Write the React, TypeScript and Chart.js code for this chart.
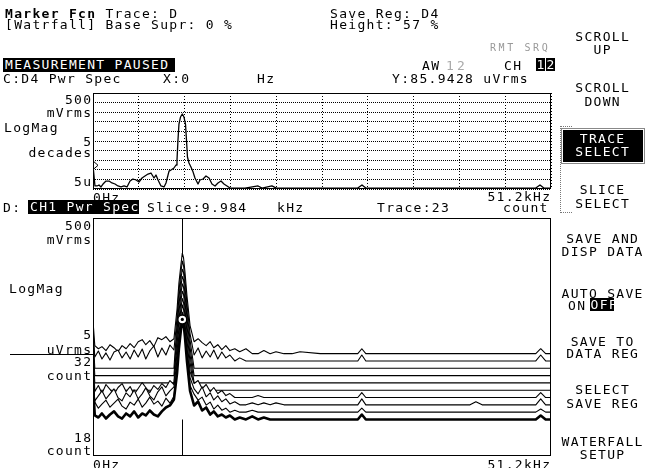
import React, { useEffect, useRef } from "react";
import { Chart, registerables } from "chart.js";

Chart.register(...registerables);

// ---------- axis constants ----------
const SPAN_KHZ = 51.2;
const SLICE_KHZ = 9.984;
const UPPER_MIN_UV = 5;
const UPPER_MAX_UV = 500000;
const UPPER_MARKER_KHZ = 0;
const UPPER_MARKER_UV = 85.9428;

// ---------- trace C: D4 Pwr Spec (uVrms) ----------
const UPPER_KHZ = [0, 0.22, 0.45, 0.67, 0.89, 1.12, 1.45, 1.79, 2.12, 2.46, 2.79, 3.13, 3.47, 3.8, 4.14, 4.47, 4.81, 5.14, 5.48, 5.81, 6.15, 6.48, 6.82, 7.04, 7.27, 7.6, 7.94, 8.16, 8.5, 8.72, 9.05, 9.28, 9.39, 9.5, 9.61, 9.78, 9.984, 10.17, 10.34, 10.45, 10.56, 10.73, 10.95, 11.18, 11.4, 11.74, 11.96, 12.3, 12.63, 12.97, 13.3, 13.64, 13.97, 14.31, 14.64, 14.98, 15.32, 17.0, 18.45, 18.9, 20.0, 20.5, 29.6, 30.07, 30.5, 49.5, 49.97, 50.4, 51.2];
const UPPER_UV = [85.94, 7.2, 7.2, 8.1, 6.4, 9.1, 13, 13, 10.3, 9.1, 7.2, 6.4, 7.2, 6.4, 13, 16.6, 14.7, 11.6, 18.7, 23.8, 30, 34, 18.7, 26.8, 14.7, 7.2, 6.4, 10.3, 43, 49, 62, 89, 161, 1790, 12100, 28000, 40300, 28000, 12100, 1790, 232, 113, 70, 39, 18.7, 9.1, 14.7, 16.6, 23.8, 18.7, 9.1, 7.2, 10.3, 13, 9.1, 7.2, 5.6, 5.6, 7.2, 5.6, 7.2, 5.6, 5.6, 8.1, 5.6, 5.6, 8.1, 5.6, 5.6];

// ---------- waterfall D: CH1 Pwr Spec (uVrms) ----------
const WF_KHZ = [0, 0.2, 0.6, 1.0, 1.45, 1.9, 2.35, 2.8, 3.25, 3.7, 4.15, 4.6, 5.05, 5.5, 5.9, 6.35, 6.8, 7.25, 7.7, 8.15, 8.6, 9.05, 9.4, 9.6, 9.84, 9.984, 10.12, 10.28, 10.5, 10.85, 11.3, 11.75, 12.2, 12.65, 13.1, 13.5, 13.95, 14.4, 14.85, 15.3, 15.85, 16.4, 17.1, 17.8, 18.45, 19.1, 19.8, 20.45, 21.35, 22.25, 23.15, 25.4, 29.6, 30.05, 30.5, 42.15, 42.8, 43.5, 49.5, 50.05, 50.6, 51.2];
const PEAK_KHZ = [0, 0.2, 9.05, 9.4, 9.6, 9.84, 9.984, 10.12, 10.28, 10.5, 10.85, 11.3, 51.2];

const TRACE_23 = [97, 7.0, 5.9, 8.3, 5.4, 7.6, 9.9, 6.5, 5.4, 8.3, 6.5, 9.9, 5.9, 8.3, 7.0, 10.7, 7.6, 6.5, 9.9, 13.8, 16.4, 27.3, 260, 2000, 10800, 24300, 17500, 5500, 720, 56, 16.4, 23, 10.7, 13.8, 7.6, 9.9, 6.5, 7.6, 5.9, 7.0, 5, 5.9, 5, 6.5, 5, 5.9, 5, 5, 5, 5, 5, 5, 5, 7.6, 5, 5, 5, 5, 5, 7.0, 5, 5];
const TRACE_24 = [75.5, 11.7, 7.0, 9.9, 13.8, 7.6, 10.7, 15.1, 8.3, 6.5, 11.7, 9.1, 15.1, 7.6, 10.7, 17.8, 9.9, 12.7, 8.3, 16.4, 10.7, 19.4, 235, 1900, 10350, 24300, 17200, 5250, 690, 48, 23, 13.8, 17.8, 9.1, 11.7, 6.5, 9.1, 5.9, 7.0, 5, 5.9, 5, 5, 5.9, 5, 5, 5, 5, 5, 5, 5, 5, 5, 7.0, 5, 5, 5, 5, 5, 6.5, 5, 5];
const TRACE_25 = [64, 7.0, 10.7, 16.4, 8.3, 12.7, 19.4, 9.1, 7.0, 13.8, 9.9, 17.8, 8.3, 12.7, 21.1, 10.7, 7.6, 15.1, 23, 10.7, 16.4, 23, 240, 1950, 10500, 24300, 17200, 5400, 700, 50, 19.4, 12.7, 23, 9.9, 13.8, 7.6, 10.7, 6.5, 8.3, 5.4, 6.5, 5, 5, 5.9, 5, 5.9, 5, 5.9, 5, 5, 5, 5, 5, 8.3, 5, 5, 6.5, 5, 5, 8.3, 5, 5];
const TRACE_26 = [64, 8.3, 13.8, 7.0, 15.1, 9.9, 6.5, 11.7, 16.4, 8.3, 12.7, 6.5, 10.7, 17.8, 11.7, 7.6, 13.8, 9.9, 16.4, 11.7, 21.1, 15.1, 227, 1900, 10350, 22300, 16000, 5250, 686, 45, 16.4, 21.1, 10.7, 15.1, 8.3, 11.7, 7.0, 9.1, 5.9, 7.0, 5, 5, 5, 5, 5.9, 5, 5, 5, 5, 5, 5, 5, 5, 7.6, 5, 5, 5, 5, 5, 7.6, 5, 5];
const TRACE_27 = [97, 5, 5, 227, 1900, 10350, 22300, 17200, 5250, 686, 54, 5, 5];
const TRACE_28 = [82, 5, 5, 227, 1900, 10350, 22300, 17200, 5250, 686, 54, 5, 5];
const TRACE_29 = [75.5, 5, 5, 227, 1900, 10350, 22300, 17200, 5250, 686, 54, 5, 5];
const TRACE_30 = [82, 5, 5, 227, 1900, 10350, 22300, 17200, 5250, 686, 54, 5, 5];
const TRACE_31 = [82, 7.0, 11.7, 5.9, 9.9, 5.4, 10.7, 12.7, 6.5, 10.7, 5.9, 12.7, 7.0, 13.8, 5.9, 11.7, 17.8, 7.0, 15.1, 8.3, 19.4, 12.7, 210, 1800, 10000, 24300, 16500, 5000, 650, 50, 8.3, 15.1, 6.5, 11.7, 7.0, 12.7, 5.9, 10.7, 6.5, 8.3, 5, 6.5, 5, 5, 5, 5, 5, 5, 5, 5, 5, 5, 5, 8.3, 5, 5, 5, 5, 5, 8.3, 5, 5];
const TRACE_32 = [82, 9.9, 7.6, 9.1, 6.5, 10.7, 8.3, 5.9, 9.9, 7.6, 11.7, 8.3, 13.8, 16.4, 10.7, 15.1, 9.1, 19.4, 16.4, 21.1, 13.8, 17.8, 227, 1900, 10350, 25350, 17200, 5250, 686, 54, 13.8, 17.8, 12.7, 9.9, 13.8, 8.3, 10.7, 7.0, 9.9, 6.5, 7.6, 5.9, 7.6, 5, 5, 6.5, 5, 5.9, 5, 5, 5.9, 5, 5, 7.6, 5, 5, 5, 5, 5, 7.6, 5, 5];

const WF_FIRST = 18;
const WF_LAST = 32;
const WF_HEIGHT_PCT = 57;
const WF_DECADES = 5;
const WF_REF_UV = 5;
const SELECTED_TRACE = 23;

const WF_TRACES = [
  { num: 23, khz: WF_KHZ, uv: TRACE_23 },
  { num: 24, khz: WF_KHZ, uv: TRACE_24 },
  { num: 25, khz: WF_KHZ, uv: TRACE_25 },
  { num: 26, khz: WF_KHZ, uv: TRACE_26 },
  { num: 27, khz: PEAK_KHZ, uv: TRACE_27 },
  { num: 28, khz: PEAK_KHZ, uv: TRACE_28 },
  { num: 29, khz: PEAK_KHZ, uv: TRACE_29 },
  { num: 30, khz: PEAK_KHZ, uv: TRACE_30 },
  { num: 31, khz: WF_KHZ, uv: TRACE_31 },
  { num: 32, khz: WF_KHZ, uv: TRACE_32 },
];

const WF_AXIS_MAX = WF_DECADES / (WF_HEIGHT_PCT / 100);
const WF_STEP = (WF_AXIS_MAX - WF_DECADES) / (WF_LAST - WF_FIRST);
const wfBase = (num: number) => (num - WF_FIRST) * WF_STEP;
const wfY = (num: number, uv: number) => Math.log10(Math.max(uv, WF_REF_UV) / WF_REF_UV) + wfBase(num);

const FONT = '"DejaVu Sans Mono", "Liberation Mono", monospace';
const W = 646;
const H = 468;

// ---------- plugins ----------
const framePlugin = {
  id: "frame",
  afterDraw(chart: any) {
    const { ctx, chartArea: a } = chart;
    ctx.save();
    ctx.strokeStyle = "#000";
    ctx.lineWidth = 1;
    ctx.setLineDash([]);
    ctx.strokeRect(a.left + 0.5, a.top + 0.5, a.right - a.left - 1, a.bottom - a.top - 1);
    ctx.restore();
  },
};

const upperMarkerPlugin = {
  id: "upperMarker",
  afterDatasetsDraw(chart: any) {
    const { ctx } = chart;
    const x = chart.scales.x.getPixelForValue(UPPER_MARKER_KHZ);
    const y = chart.scales.y.getPixelForValue(UPPER_MARKER_UV);
    ctx.save();
    ctx.strokeStyle = "#000";
    ctx.lineWidth = 1;
    ctx.beginPath();
    ctx.moveTo(x + 1, y - 3.5);
    ctx.lineTo(x + 5, y);
    ctx.lineTo(x + 1, y + 3.5);
    ctx.stroke();
    ctx.restore();
  },
};

const lowerMarkerPlugin = {
  id: "lowerMarker",
  beforeDatasetsDraw(chart: any) {
    const { ctx, chartArea: a } = chart;
    const px = Math.round(chart.scales.x.getPixelForValue(SLICE_KHZ)) + 0.5;
    ctx.save();
    ctx.strokeStyle = "#000";
    ctx.lineWidth = 1;
    ctx.beginPath();
    ctx.moveTo(px, a.top);
    ctx.lineTo(px, a.bottom);
    ctx.stroke();
    ctx.restore();
  },
  afterDatasetsDraw(chart: any) {
    const { ctx, chartArea: a } = chart;
    const xs = chart.scales.x;
    const ys = chart.scales.y;
    const idx = WF_KHZ.indexOf(SLICE_KHZ);
    const cx = xs.getPixelForValue(SLICE_KHZ);
    const cy = ys.getPixelForValue(wfY(SELECTED_TRACE, TRACE_23[idx]));
    ctx.save();
    ctx.fillStyle = "#fff";
    ctx.strokeStyle = "#000";
    ctx.lineWidth = 1.5;
    ctx.beginPath();
    ctx.arc(cx, cy, 4.5, 0, Math.PI * 2);
    ctx.fill();
    ctx.stroke();
    ctx.fillStyle = "#000";
    ctx.beginPath();
    ctx.arc(cx, cy, 1.6, 0, Math.PI * 2);
    ctx.fill();
    // baseline indicator of the newest trace, left of the plot
    const by = Math.round(ys.getPixelForValue(wfBase(WF_LAST))) + 0.5;
    ctx.lineWidth = 1;
    ctx.beginPath();
    ctx.moveTo(10, by);
    ctx.lineTo(a.left, by);
    ctx.stroke();
    ctx.restore();
  },
};

const divisions = (min: number, max: number, n: number, log = false) =>
  Array.from({ length: n + 1 }, (_, i) =>
    log ? { value: min * Math.pow(max / min, i / n) } : { value: min + ((max - min) * i) / n }
  );

function upperConfig(): any {
  return {
    type: "line",
    data: {
      datasets: [
        {
          data: UPPER_KHZ.map((x, i) => ({ x, y: UPPER_UV[i] })),
          borderColor: "#000",
          borderWidth: 1.3,
          borderJoinStyle: "round",
          pointRadius: 0,
          tension: 0,
          fill: false,
        },
      ],
    },
    options: {
      animation: false,
      responsive: false,
      events: [],
      layout: { padding: { left: 93, top: 93, right: W - 551, bottom: 200 - 189 } },
      plugins: { legend: { display: false }, tooltip: { enabled: false } },
      scales: {
        x: {
          type: "linear",
          min: 0,
          max: SPAN_KHZ,
          ticks: { display: false },
          grid: { color: "#000", lineWidth: 1, drawTicks: false },
          border: { display: false, dash: [1, 2] },
          afterBuildTicks: (s: any) => {
            s.ticks = divisions(0, SPAN_KHZ, 10);
          },
          afterFit: (s: any) => {
            s.height = 0;
          },
        },
        y: {
          type: "logarithmic",
          min: UPPER_MIN_UV,
          max: UPPER_MAX_UV,
          ticks: { display: false },
          grid: { color: "#000", lineWidth: 1, drawTicks: false },
          border: { display: false, dash: [1, 1] },
          afterBuildTicks: (s: any) => {
            s.ticks = divisions(UPPER_MIN_UV, UPPER_MAX_UV, 10, true);
          },
          afterFit: (s: any) => {
            s.width = 0;
          },
        },
      },
    },
    plugins: [framePlugin, upperMarkerPlugin],
  };
}

function lowerConfig(): any {
  return {
    type: "line",
    data: {
      datasets: WF_TRACES.map((t) => ({
        data: t.khz.map((x, i) => ({ x, y: wfY(t.num, t.uv[i]) })),
        borderColor: "#000",
        borderWidth: t.num === SELECTED_TRACE ? 2.6 : 1.1,
        borderJoinStyle: "round",
        pointRadius: 0,
        tension: 0,
        backgroundColor: "#fff",
        fill: { target: { value: wfBase(t.num) }, above: "#fff", below: "#fff" },
      })),
    },
    options: {
      animation: false,
      responsive: false,
      events: [],
      layout: { padding: { left: 93, top: 18, right: W - 551, bottom: 268 - 256 } },
      plugins: { legend: { display: false }, tooltip: { enabled: false }, filler: { propagate: false } },
      scales: {
        x: {
          type: "linear",
          min: 0,
          max: SPAN_KHZ,
          ticks: { display: false },
          grid: { display: false, drawTicks: false },
          border: { display: false },
          afterFit: (s: any) => {
            s.height = 0;
          },
        },
        y: {
          type: "linear",
          min: 0,
          max: WF_AXIS_MAX,
          ticks: { display: false },
          grid: { display: false, drawTicks: false },
          border: { display: false },
          afterFit: (s: any) => {
            s.width = 0;
          },
        },
      },
    },
    plugins: [framePlugin, lowerMarkerPlugin],
  };
}

// ---------- text helpers ----------
const SIZE = 13;
const LS = 1.3;

type TP = {
  x?: number;
  r?: number;
  cap: number;
  children: React.ReactNode;
  color?: string;
  bold?: boolean;
  size?: number;
  ls?: number;
};

const Txt = ({ x, r, cap, children, color = "#000", bold, size = SIZE, ls = LS }: TP) => (
  <div
    style={{
      position: "absolute",
      left: x,
      right: r !== undefined ? W - r - ls : undefined,
      top: cap - size * 0.117,
      fontFamily: FONT,
      fontSize: size,
      lineHeight: `${size}px`,
      letterSpacing: ls,
      whiteSpace: "pre",
      color,
      fontWeight: bold ? "bold" : "normal",
    }}
  >
    {children}
  </div>
);

const Key = ({ cap, children, color = "#000" }: { cap: number; children: React.ReactNode; color?: string }) => (
  <div
    style={{
      position: "absolute",
      left: 556,
      width: 92,
      textAlign: "center",
      paddingLeft: LS,
      boxSizing: "border-box",
      top: cap - SIZE * 0.117,
      fontFamily: FONT,
      fontSize: SIZE,
      lineHeight: `${SIZE}px`,
      letterSpacing: LS,
      whiteSpace: "pre",
      color,
    }}
  >
    {children}
  </div>
);

const Inv = ({ x, y, w, h, text, pad = 2 }: { x: number; y: number; w: number; h: number; text: string; pad?: number }) => (
  <div
    style={{
      position: "absolute",
      left: x,
      top: y,
      width: w,
      height: h,
      background: "#000",
      color: "#fff",
      fontFamily: FONT,
      fontSize: SIZE,
      lineHeight: `${h}px`,
      letterSpacing: LS,
      whiteSpace: "pre",
      paddingLeft: pad,
      boxSizing: "border-box",
      overflow: "hidden",
    }}
  >
    {text}
  </div>
);

export default function App() {
  const upRef = useRef<HTMLCanvasElement>(null);
  const loRef = useRef<HTMLCanvasElement>(null);

  useEffect(() => {
    const up = new Chart(upRef.current as HTMLCanvasElement, upperConfig());
    const lo = new Chart(loRef.current as HTMLCanvasElement, lowerConfig());
    return () => {
      up.destroy();
      lo.destroy();
    };
  }, []);

  return (
    <div style={{ position: "fixed", left: 0, top: 0, width: W, height: H, background: "#fff", overflow: "hidden" }}>
      <canvas ref={upRef} width={W} height={200} style={{ position: "absolute", left: 0, top: 0, width: W, height: 200 }} />
      <canvas ref={loRef} width={W} height={268} style={{ position: "absolute", left: 0, top: 200, width: W, height: 268 }} />

      {/* header */}
      <Txt x={5} cap={8.5}>
        <b>Marker Fcn</b> Trace: D
      </Txt>
      <Txt x={5} cap={20}>[Watrfall] Base Supr: 0 %</Txt>
      <Txt x={330} cap={8.5}>Save Reg: D4</Txt>
      <Txt x={330} cap={20}>Height: 57 %</Txt>
      <Txt x={490} cap={44} size={10} ls={2.6} color="#999">RMT SRQ</Txt>

      <Inv x={3} y={58} w={172} h={14} text="MEASUREMENT PAUSED" />
      <Txt x={422} cap={61}>AW</Txt>
      <Txt x={446} cap={61} color="#aaa">1</Txt>
      <Txt x={457} cap={61} color="#aaa">2</Txt>
      <Txt x={504} cap={61}>CH</Txt>
      <Inv x={536} y={58} w={9} h={13} text="1" pad={0.5} />
      <Inv x={546} y={58} w={9} h={13} text="2" pad={0.5} />

      <Txt x={3} cap={73.5}>C:D4 Pwr Spec</Txt>
      <Txt x={163} cap={73.5}>X:0</Txt>
      <Txt x={257} cap={73.5}>Hz</Txt>
      <Txt x={392} cap={73.5}>Y:85.9428 uVrms</Txt>

      {/* upper axis labels */}
      <Txt r={91} cap={94.5}>500</Txt>
      <Txt r={91} cap={108}>mVrms</Txt>
      <Txt x={4} cap={123}>LogMag</Txt>
      <Txt r={91} cap={137}>5</Txt>
      <Txt r={91} cap={148}>decades</Txt>
      <Txt r={91} cap={177}>5u</Txt>
      <Txt x={93} cap={192.5}>0Hz</Txt>
      <Txt r={550} cap={191.5}>51.2kHz</Txt>

      {/* lower header */}
      <Txt x={3} cap={203}>D:</Txt>
      <Inv x={28} y={200} w={111} h={14} text="CH1 Pwr Spec" />
      <Txt x={147} cap={203}>Slice:9.984</Txt>
      <Txt x={277} cap={203}>kHz</Txt>
      <Txt x={377} cap={203}>Trace:23</Txt>
      <Txt x={503} cap={203}>count</Txt>

      {/* lower axis labels */}
      <Txt r={91} cap={221}>500</Txt>
      <Txt r={91} cap={235}>mVrms</Txt>
      <Txt x={9} cap={284}>LogMag</Txt>
      <Txt r={91} cap={330}>5</Txt>
      <Txt r={91} cap={344.5}>uVrms</Txt>
      <Txt r={91} cap={357}>32</Txt>
      <Txt r={91} cap={371}>count</Txt>
      <Txt r={91} cap={433}>18</Txt>
      <Txt r={91} cap={446}>count</Txt>
      <Txt x={93} cap={460}>0Hz</Txt>
      <Txt r={550} cap={460}>51.2kHz</Txt>

      {/* softkeys */}
      <Key cap={32}>SCROLL</Key>
      <Key cap={45}>UP</Key>
      <Key cap={83}>SCROLL</Key>
      <Key cap={97}>DOWN</Key>
      <div
        style={{
          position: "absolute",
          left: 560,
          top: 126,
          width: 12,
          height: 87,
          borderLeft: "1px dotted #777",
          borderTop: "1px dotted #777",
          borderBottom: "1px dotted #777",
          boxSizing: "border-box",
        }}
      />
      <div
        style={{
          position: "absolute",
          left: 563,
          top: 130,
          width: 80,
          height: 32,
          background: "#000",
          outline: "1px solid #888",
          outlineOffset: 1,
        }}
      />
      <Key cap={133.5} color="#fff">TRACE</Key>
      <Key cap={147} color="#fff">SELECT</Key>
      <Key cap={185}>SLICE</Key>
      <Key cap={198.5}>SELECT</Key>
      <Key cap={233.5}>SAVE AND</Key>
      <Key cap={247}>DISP DATA</Key>
      <Key cap={288.5}>AUTO SAVE</Key>
      <Txt x={568} cap={300.5}>ON</Txt>
      <Inv x={590} y={298} w={24} h={13} text="OFF" pad={0.5} />
      <Key cap={337}>SAVE TO</Key>
      <Key cap={348.5}>DATA REG</Key>
      <Key cap={385}>SELECT</Key>
      <Key cap={398.5}>SAVE REG</Key>
      <Key cap={437}>WATERFALL</Key>
      <Key cap={450}>SETUP</Key>
    </div>
  );
}
